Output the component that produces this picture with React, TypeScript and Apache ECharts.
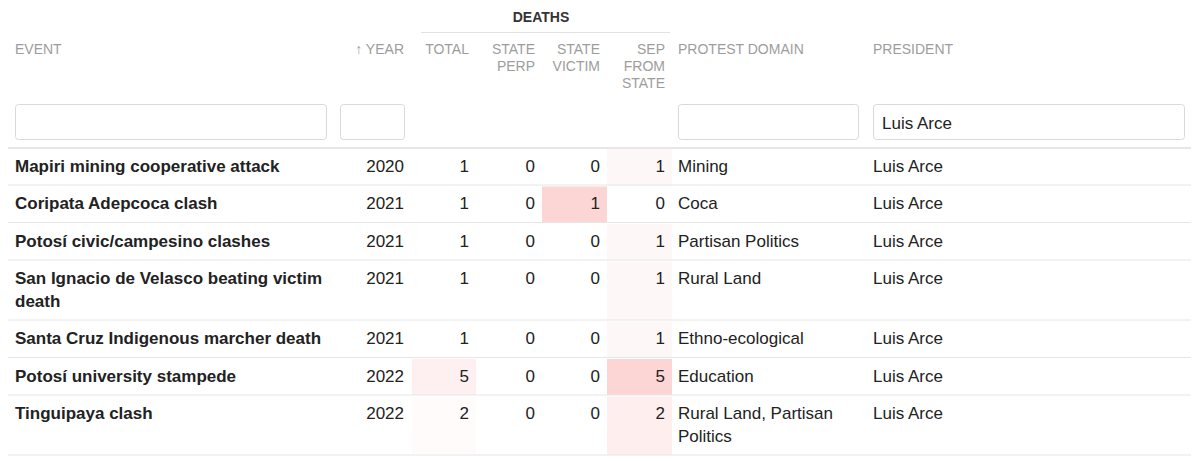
import * as echarts from 'echarts';
import React, { useEffect, useRef } from 'react';

const events = [
  'Mapiri mining cooperative attack',
  'Coripata Adepcoca clash',
  'Potosí civic/campesino clashes',
  'San Ignacio de Velasco beating victim death',
  'Santa Cruz Indigenous marcher death',
  'Potosí university stampede',
  'Tinguipaya clash',
];
const years = [2020, 2021, 2021, 2021, 2021, 2022, 2022];
const totalDeaths = [1, 1, 1, 1, 1, 5, 2];
const statePerp = [0, 0, 0, 0, 0, 0, 0];
const stateVictim = [0, 1, 0, 0, 0, 0, 0];
const sepFromState = [1, 0, 1, 1, 1, 5, 2];
const protestDomains = [
  'Mining',
  'Coca',
  'Partisan Politics',
  'Rural Land',
  'Ethno-ecological',
  'Education',
  'Rural Land, Partisan Politics',
];
const presidents = ['Luis Arce', 'Luis Arce', 'Luis Arce', 'Luis Arce', 'Luis Arce', 'Luis Arce', 'Luis Arce'];

const groupHeader = 'DEATHS';
const deathHeaders = ['TOTAL', 'STATE\nPERP', 'STATE\nVICTIM', 'SEP\nFROM\nSTATE'];
const filterValues = ['', '', '', 'Luis Arce'];
// colour scale domain for each deaths column [min, max]
const colorDomains = [
  [1, 12],
  [0, 5],
  [0, 1],
  [0, 5],
];

const FONT = '"Liberation Sans", Arial, Helvetica, sans-serif';

// measure + wrap text with a canvas
const ctx = document.createElement('canvas').getContext('2d')!;
function wrap(text: string, font: string, maxWidth: number): string[] {
  ctx.font = font;
  const words = text.split(' ');
  const lines: string[] = [];
  let cur = '';
  words.forEach((w) => {
    const test = cur ? cur + ' ' + w : w;
    if (cur && ctx.measureText(test).width > maxWidth) {
      lines.push(cur);
      cur = w;
    } else {
      cur = test;
    }
  });
  if (cur) lines.push(cur);
  return lines;
}

function heat(v: number, [lo, hi]: number[]) {
  const t = Math.max(0, Math.min(1, (v - lo) / (hi - lo)));
  const end = [252, 213, 213];
  const c = end.map((e) => Math.round(255 + (e - 255) * t));
  return `rgb(${c[0]},${c[1]},${c[2]})`;
}

const App: React.FC = () => {
  const chartRef = useRef<HTMLDivElement>(null);

  useEffect(() => {
    if (!chartRef.current) return;
    const chart = echarts.init(chartRef.current, null, { renderer: 'svg' });

    const els: any[] = [];
    const lineColor = '#e6e6e6';
    const headColor = '#9d9d9d';
    const textColor = '#222';
    const body = `17px ${FONT}`;
    const bodyBold = `bold 17px ${FONT}`;

    // column geometry
    const eventX = 15;
    const eventWrap = 312;
    const yearRight = 404;
    const deathCols = [
      { left: 412, right: 476 },
      { left: 476, right: 542 },
      { left: 542, right: 607 },
      { left: 607, right: 672 },
    ];
    const domainX = 678;
    const domainWrap = 180;
    const presX = 873;

    // group header
    els.push({
      type: 'text',
      x: 541,
      y: 17,
      style: { text: groupHeader, font: `bold 14px ${FONT}`, fill: '#333', align: 'center', verticalAlign: 'middle' },
    });
    els.push({
      type: 'line',
      shape: { x1: 421, y1: 32.5, x2: 670, y2: 32.5 },
      style: { stroke: '#e2e2e2', lineWidth: 1 },
    });

    const headStyle = (text: string, align: string) => ({
      text,
      font: `14px ${FONT}`,
      fill: headColor,
      align,
      verticalAlign: 'top',
      lineHeight: 17,
    });
    els.push({ type: 'text', x: eventX, y: 40, style: headStyle('EVENT', 'left') });
    els.push({ type: 'text', x: yearRight, y: 40, style: headStyle('↑ YEAR', 'right') });
    deathHeaders.forEach((h, i) => {
      els.push({ type: 'text', x: deathCols[i].right - 7, y: 40, style: headStyle(h, 'right') });
    });
    els.push({ type: 'text', x: domainX, y: 40, style: headStyle('PROTEST DOMAIN', 'left') });
    els.push({ type: 'text', x: presX, y: 40, style: headStyle('PRESIDENT', 'left') });

    // filter inputs
    const boxes = [
      [15, 326],
      [340, 404],
      [678, 858],
      [873, 1184],
    ];
    boxes.forEach(([x1, x2], i) => {
      els.push({
        type: 'rect',
        shape: { x: x1 + 0.5, y: 104.5, width: x2 - x1, height: 35, r: 3 },
        style: { fill: '#fff', stroke: '#d9d9d9', lineWidth: 1 },
      });
      if (filterValues[i]) {
        els.push({
          type: 'text',
          x: x1 + 9,
          y: 123,
          style: { text: filterValues[i], font: body, fill: '#222', verticalAlign: 'middle' },
        });
      }
    });

    // header separator
    els.push({
      type: 'line',
      shape: { x1: 8, y1: 148, x2: 1191, y2: 148 },
      style: { stroke: '#e6e6e6', lineWidth: 2 },
    });

    const lineH = 23;
    let top = 148;
    events.forEach((ev, r) => {
      const evLines = wrap(ev, bodyBold, eventWrap);
      const domLines = wrap(protestDomains[r], body, domainWrap);
      const n = Math.max(evLines.length, domLines.length);
      const h = 15 + 22.5 * n;
      const cy = top + 18;

      const vals = [totalDeaths[r], statePerp[r], stateVictim[r], sepFromState[r]];
      vals.forEach((v, c) => {
        const col = deathCols[c];
        els.push({
          type: 'rect',
          shape: { x: col.left, y: top + 1, width: col.right - col.left, height: h - 1.5 },
          style: { fill: heat(v, colorDomains[c]) },
        });
        els.push({
          type: 'text',
          x: col.right - 7,
          y: cy,
          style: { text: String(v), font: body, fill: textColor, align: 'right', verticalAlign: 'middle' },
        });
      });

      els.push({
        type: 'text',
        x: eventX,
        y: cy - lineH / 2,
        style: { text: evLines.join('\n'), font: bodyBold, fill: textColor, verticalAlign: 'top', lineHeight: lineH },
      });
      els.push({
        type: 'text',
        x: yearRight,
        y: cy,
        style: { text: String(years[r]), font: body, fill: textColor, align: 'right', verticalAlign: 'middle' },
      });
      els.push({
        type: 'text',
        x: domainX,
        y: cy - lineH / 2,
        style: { text: domLines.join('\n'), font: body, fill: textColor, verticalAlign: 'top', lineHeight: lineH },
      });
      els.push({
        type: 'text',
        x: presX,
        y: cy,
        style: { text: presidents[r], font: body, fill: textColor, verticalAlign: 'middle' },
      });

      top += h;
      els.push({
        type: 'line',
        shape: { x1: 8, y1: top - 0.5, x2: 1191, y2: top - 0.5 },
        style: { stroke: lineColor, lineWidth: 1 },
      });
    });

    chart.setOption({
      animation: false,
      backgroundColor: '#fff',
      graphic: { elements: els },
    });

    const handleResize = () => chart.resize();
    window.addEventListener('resize', handleResize);
    return () => {
      window.removeEventListener('resize', handleResize);
      chart.dispose();
    };
  }, []);

  return (
    <div
      ref={chartRef}
      style={{ position: 'absolute', left: 0, top: 0, width: '1200px', height: '461px' }}
    />
  );
};

export default App;
